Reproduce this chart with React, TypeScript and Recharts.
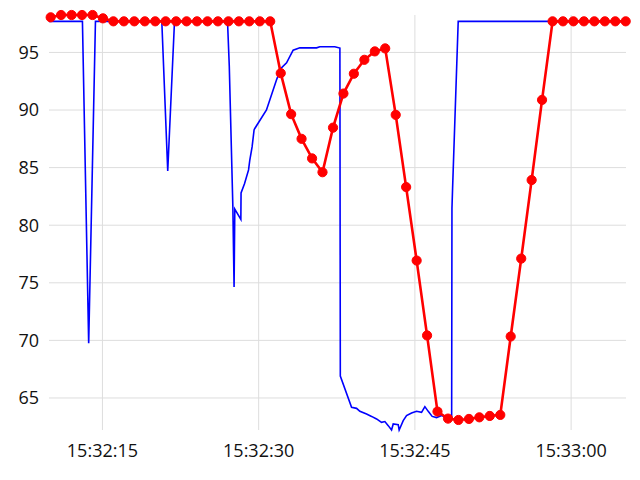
import React from 'react';
import { LineChart, Line, XAxis, YAxis, CartesianGrid } from 'recharts';

// time in seconds after 15:32:00
const redTimes = [
  10.03, 11.03, 12.04, 13.04, 14.05, 15.05, 16.05, 17.06, 18.06, 19.07,
  20.07, 21.07, 22.08, 23.08, 24.08, 25.09, 26.09, 27.1, 28.1, 29.1,
  30.11, 31.11, 32.12, 33.12, 34.12, 35.13, 36.13, 37.14, 38.14, 39.14,
  40.15, 41.15, 42.15, 43.16, 44.16, 45.17, 46.17, 47.17, 48.18, 49.18,
  50.19, 51.19, 52.19, 53.2, 54.2, 55.21, 56.21, 57.21, 58.22, 59.22,
  60.22, 61.23, 62.23, 63.24, 64.24, 65.24,
];
const redValues = [
  98.05, 98.25, 98.25, 98.25, 98.25, 97.96, 97.7, 97.7, 97.7, 97.7,
  97.7, 97.7, 97.7, 97.7, 97.7, 97.7, 97.7, 97.7, 97.7, 97.7,
  97.7, 97.7, 93.2, 89.64, 87.5, 85.8, 84.6, 88.47, 91.43, 93.15,
  94.36, 95.09, 95.35, 89.58, 83.31, 76.93, 70.43, 63.82, 63.21, 63.09,
  63.18, 63.32, 63.44, 63.53, 70.34, 77.1, 83.92, 90.88, 97.7, 97.7,
  97.7, 97.7, 97.7, 97.7, 97.7, 97.7,
];

const blueTimes = [
  9.87, 13.08, 13.68, 14.33, 20.7, 21.27, 21.92, 27.01, 27.18, 27.52,
  27.64, 27.71, 28.29, 28.31, 28.64, 29.03, 29.15, 29.37, 29.56, 29.63,
  30.75, 31.71, 32.13, 32.68, 33.31, 33.95, 35.56, 35.87, 37.31, 37.8,
  37.84, 38.92, 39.4, 39.72, 40.36, 40.84, 41.32, 41.8, 42.12, 42.44,
  42.76, 42.92, 43.4, 43.49, 43.88, 44.2, 44.68, 45.16, 45.64, 45.96,
  46.28, 46.66, 47.08, 47.56, 48.04, 48.53, 48.56, 48.62, 49.16, 65.27,
];
const blueValues = [
  97.7, 97.7, 69.76, 97.7, 97.7, 84.7, 97.7, 97.7, 93.8, 81.74,
  74.63, 81.4, 80.5, 82.8, 83.6, 84.8, 85.66, 86.8, 88.27, 88.4,
  90.0, 92.6, 93.6, 94.1, 95.2, 95.4, 95.4, 95.5, 95.5, 95.38,
  66.9, 64.19, 64.1, 63.84, 63.6, 63.4, 63.18, 62.88, 62.95, 62.6,
  62.22, 62.74, 62.68, 62.22, 63.03, 63.47, 63.7, 63.84, 63.75, 64.25,
  63.84, 63.4, 63.3, 63.47, 63.3, 63.18, 81.5, 83.2, 97.7, 97.7,
];

const xTicks = [15, 30, 45, 60];
const yTicks = [65, 70, 75, 80, 85, 90, 95];

const redData = redTimes.map((t, i) => ({ t, v: redValues[i] }));
const blueData = blueTimes.map((t, i) => ({ t, v: blueValues[i] }));

const fmtTime = (s: number) => {
  const m = 32 + Math.floor(s / 60);
  const sec = Math.round(s % 60);
  return `15:${String(m).padStart(2, '0')}:${String(sec).padStart(2, '0')}`;
};

const tickStyle = { fontFamily: '"Open Sans", sans-serif', fontSize: 18, fill: '#111' };

export default function App() {
  return (
    <div style={{ width: 632, height: 472 }}>
      <LineChart width={632} height={472} margin={{ top: 7, right: 14, left: 0, bottom: 20 }}>
        <CartesianGrid stroke="#dddddd" strokeWidth={1} syncWithTicks />
        <XAxis
          type="number"
          dataKey="t"
          domain={['dataMin', 'dataMax']}
          ticks={xTicks}
          tickFormatter={fmtTime}
          axisLine={false}
          tickLine={false}
          tickSize={0}
          tickMargin={14}
          height={30}
          tick={tickStyle}
          interval={0}
        />
        <YAxis
          type="number"
          domain={['dataMin', 'dataMax']}
          ticks={yTicks}
          axisLine={false}
          tickLine={false}
          tickSize={0}
          tickMargin={10}
          width={41}
          tick={tickStyle}
          interval={0}
        />
        <Line
          data={blueData}
          dataKey="v"
          stroke="#0000ff"
          strokeWidth={1.6}
          dot={false}
          isAnimationActive={false}
          type="linear"
        />
        <Line
          data={redData}
          dataKey="v"
          stroke="#ff0000"
          strokeWidth={2.6}
          dot={{ r: 4.6, fill: '#ff0000', stroke: '#ff0000', strokeWidth: 1 }}
          isAnimationActive={false}
          type="linear"
        />
      </LineChart>
    </div>
  );
}
